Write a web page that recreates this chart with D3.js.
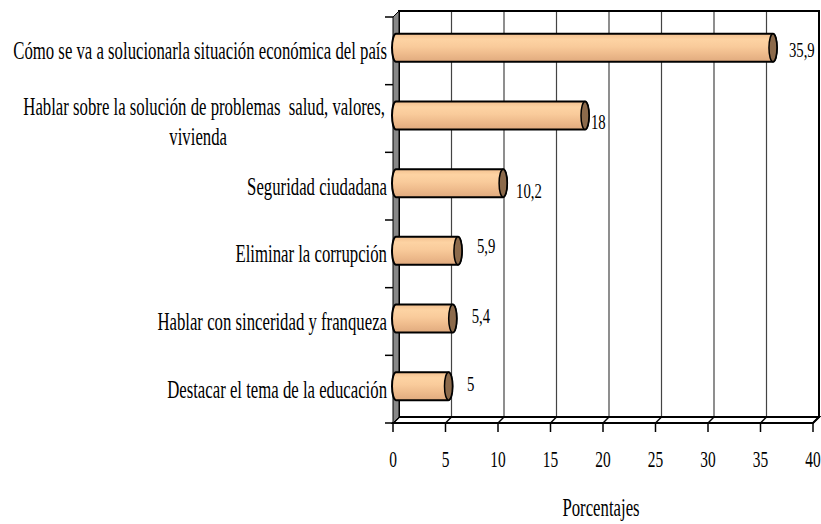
<!DOCTYPE html>
<html>
<head>
<meta charset="utf-8">
<script src="https://cdn.jsdelivr.net/npm/d3@7"></script>
<style>
  body { margin: 0; background: #fff; }
  svg text { font-family: "Liberation Serif", Tinos, "DejaVu Serif", "Noto Serif", serif; fill: #000; white-space: pre; }
</style>
</head>
<body>
<div id="chart"></div>
<script>
const categories = [
    'Cómo se va a solucionarla situación económica del país',
    'Hablar sobre la solución de problemas  salud, valores,|vivienda',
    'Seguridad ciudadana',
    'Eliminar la corrupción',
    'Hablar con sinceridad y franqueza',
    'Destacar el tema de la educación'
];
const values = [35.9, 18, 10.2, 5.9, 5.4, 5];
const valueLabels = ['35,9', '18', '10,2', '5,9', '5,4', '5'];
const xTicks = [0, 5, 10, 15, 20, 25, 30, 35, 40];
const axisTitle = 'Porcentajes';

// manual label nudges (dx from bar end, dy from bar centre)
const labelNudge = [[16, 9], [6, 13.5], [13, 15], [19, 2], [19, 4.5], [18.5, 4.5]];

const w = 821, h = 524;
const depth = 6;
const sx = 0.67;

const svg = d3.select('#chart').append('svg')
    .attr('width', w)
    .attr('height', h);

const x = d3.scaleLinear().domain([0, 40]).range([393, 813]);
const y = d3.scaleBand().domain(categories).range([17, 423]);
const yTop = y.range()[0], yBot = y.range()[1];

// back wall
svg.append('rect')
    .attr('x', x(0) + depth).attr('y', yTop - depth)
    .attr('width', x(40) - x(0)).attr('height', yBot - yTop)
    .attr('fill', '#fff');

// gridlines on back wall + floor
xTicks.slice(1, -1).forEach(t => {
    svg.append('line')
        .attr('x1', x(t) + depth).attr('x2', x(t) + depth)
        .attr('y1', yTop - depth).attr('y2', yBot - depth)
        .attr('stroke', '#444').attr('stroke-width', 1.2);
});
xTicks.forEach(t => {
    svg.append('line')
        .attr('x1', x(t) + depth).attr('y1', yBot - depth)
        .attr('x2', x(t)).attr('y2', yBot)
        .attr('stroke', '#000').attr('stroke-width', 1.5);
});

// back wall border
svg.append('rect')
    .attr('x', x(0) + depth).attr('y', yTop - depth)
    .attr('width', x(40) - x(0)).attr('height', yBot - yTop)
    .attr('fill', 'none').attr('stroke', '#000').attr('stroke-width', 2);

// floor
svg.append('path')
    .attr('d', `M${x(0)},${yBot} L${x(40)},${yBot} L${x(40) + depth},${yBot - depth} L${x(0) + depth},${yBot - depth} Z`)
    .attr('fill', 'none').attr('stroke', '#000').attr('stroke-width', 2);

// left wall
svg.append('path')
    .attr('d', `M${x(0)},${yTop} L${x(0) + depth},${yTop - depth} L${x(0) + depth},${yBot - depth} L${x(0)},${yBot} Z`)
    .attr('fill', '#888').attr('stroke', '#000').attr('stroke-width', 1);

// category ticks
d3.range(categories.length + 1).forEach(i => {
    const yy = yTop + i * y.bandwidth();
    svg.append('line')
        .attr('x1', x(0) - 8).attr('x2', x(0))
        .attr('y1', yy).attr('y2', yy)
        .attr('stroke', '#000').attr('stroke-width', 1.5);
});

// x ticks + labels
xTicks.forEach(t => {
    svg.append('line')
        .attr('x1', x(t)).attr('x2', x(t))
        .attr('y1', yBot).attr('y2', yBot + 9)
        .attr('stroke', '#000').attr('stroke-width', 1.5);
    svg.append('text')
        .attr('transform', `translate(${x(t)},467) scale(${sx},1)`)
        .attr('text-anchor', 'middle')
        .style('font-size', '23px')
        .text(t);
});

// bar gradient
const grad = svg.append('defs').append('linearGradient')
    .attr('id', 'cyl').attr('x1', 0).attr('x2', 0).attr('y1', 0).attr('y2', 1);
[[0, '#f3c08f'], [0.2, '#fdd3a3'], [0.45, '#f9cb9b'], [0.7, '#efbc8d'], [1, '#e0aa7e']]
    .forEach(s => grad.append('stop').attr('offset', s[0]).attr('stop-color', s[1]));

const bh = 28, rx = 4;
const xm = v => x(v) + depth / 2;
const cy = d => y(d) + y.bandwidth() / 2 - depth / 2;

const bars = svg.selectAll('g.bar')
    .data(values)
    .enter()
    .append('g')
    .attr('class', 'bar');

bars.append('path')
    .attr('d', (v, i) => {
        const c = cy(categories[i]);
        const x0 = xm(0), x1 = xm(v);
        const y0 = c - bh / 2, y1 = c + bh / 2;
        return `M${x0},${y0} L${x1},${y0} A${rx},${bh / 2} 0 0 1 ${x1},${y1} L${x0},${y1} A${rx},${bh / 2} 0 0 1 ${x0},${y0} Z`;
    })
    .attr('fill', 'url(#cyl)')
    .attr('stroke', '#000').attr('stroke-width', 2);

bars.append('ellipse')
    .attr('cx', v => xm(v))
    .attr('cy', (v, i) => cy(categories[i]))
    .attr('rx', rx).attr('ry', bh / 2)
    .attr('fill', '#8c6a4b')
    .attr('stroke', '#000').attr('stroke-width', 1.5);

bars.append('text')
    .attr('transform', (v, i) => `translate(${xm(v) + labelNudge[i][0]},${cy(categories[i]) + labelNudge[i][1]}) scale(${sx},1)`)
    .style('font-size', '22px')
    .text((v, i) => valueLabels[i]);

// category labels
categories.forEach((c, i) => {
    const lines = c.split('|');
    const mid = y(c) + y.bandwidth() / 2;
    if (lines.length === 1) {
        svg.append('text')
            .attr('transform', `translate(387,${mid + 8.5}) scale(${sx},1)`)
            .attr('text-anchor', 'end')
            .style('font-size', '25px')
            .text(c);
    } else {
        const t1 = svg.append('text')
            .attr('transform', `translate(385,${mid - 3.5}) scale(${sx},1)`)
            .attr('text-anchor', 'end')
            .style('font-size', '25px')
            .text(lines[0]);
        const len = t1.node().getComputedTextLength() * sx;
        svg.append('text')
            .attr('transform', `translate(${385 - len / 2 - 6},${mid + 26.5}) scale(${sx},1)`)
            .attr('text-anchor', 'middle')
            .style('font-size', '25px')
            .text(lines[1]);
    }
});

svg.append('text')
    .attr('transform', `translate(601,516) scale(${sx},1)`)
    .attr('text-anchor', 'middle')
    .style('font-size', '25px')
    .text(axisTitle);
</script>
</body>
</html>
